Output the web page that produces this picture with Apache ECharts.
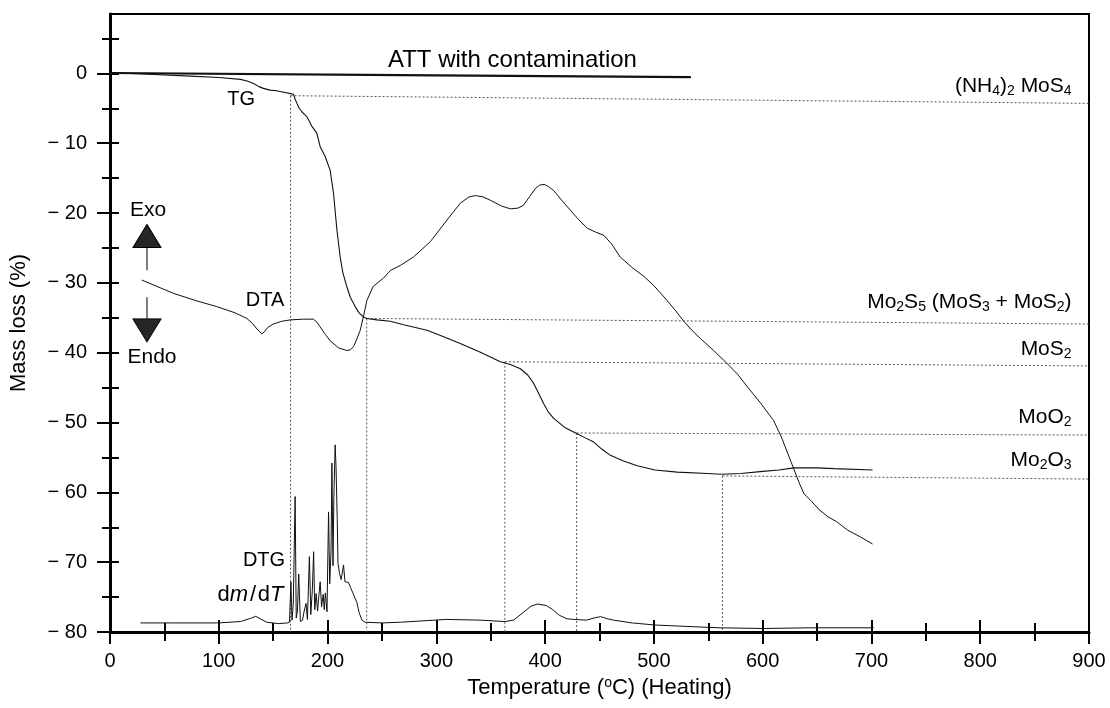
<!DOCTYPE html>
<html>
<head>
<meta charset="utf-8">
<script src="https://cdn.jsdelivr.net/npm/echarts@6/dist/echarts.min.js"></script>
<style>
html,body{margin:0;padding:0;background:#fff;}
#chart{width:1110px;height:708px;}
</style>
</head>
<body>
<div id="chart"></div>
<script>
// ---------------- DATA ----------------
const yTickLabels = [-80,-70,-60,-50,-40,-30,-20,-10,0];
const yTicksAll = [-80,-75,-70,-65,-60,-55,-50,-45,-40,-35,-30,-25,-20,-15,-10,-5,0,5];
const yTicksMinor = [-75,-65,-55,-45,-35,-25,-15,-5,5];

// ATT with contamination (mass %, thick line)
const attCurve = [[0,0.05],[267,-0.24],[534,-0.55]];

// TG curve: [temperature °C, mass loss %]
const tgCurve = [[0,0.1],[30,-0.1],[74,-0.4],[100,-0.6],[120,-0.86],[126,-1.1],[132,-1.45],[137,-1.9],[141,-2.15],[147,-2.4],[153,-2.5],[160,-2.7],[166,-2.9],[168.7,-3.0],[170,-3.6],[171.8,-4.3],[174,-5.0],[176.4,-5.5],[179,-5.9],[181,-6.2],[183,-6.8],[185.6,-7.6],[188,-8.1],[190.2,-8.6],[193.2,-10.5],[197.8,-11.9],[202.4,-13.9],[205.5,-17.2],[208.6,-22.4],[211.6,-26.3],[214,-28.5],[217.8,-30.6],[221,-32.1],[225.4,-33.4],[229,-34.3],[233.1,-34.9],[236,-35.1],[245.4,-35.3],[257.7,-35.5],[270,-36.0],[291.4,-36.8],[305,-37.6],[322,-38.7],[340,-39.9],[358.9,-41.3],[368,-41.7],[377.3,-42.3],[384,-43.2],[389.5,-44.4],[394,-45.8],[398.7,-47.3],[403,-48.5],[407.9,-49.4],[418,-50.7],[429.4,-51.6],[437,-52.2],[444.7,-52.8],[452,-53.8],[460,-54.7],[472,-55.5],[484.7,-56.2],[501,-56.8],[521.5,-57.1],[549,-57.3],[562,-57.4],[580,-57.3],[600,-57.0],[615,-56.8],[628.8,-56.5],[650,-56.5],[665.6,-56.6],[701,-56.8]];

// DTA curve
const dtaCurve = [[29.2,-29.6],[40,-30.3],[58.3,-31.5],[80,-32.6],[98.2,-33.4],[115,-34.3],[125.8,-35.1],[131,-35.8],[135,-36.6],[139.6,-37.3],[142,-37.0],[145,-36.4],[150,-35.9],[158,-35.5],[166,-35.3],[178,-35.2],[187,-35.2],[190,-35.6],[193.2,-36.3],[198,-37.4],[202.4,-38.3],[210,-39.3],[217.8,-39.7],[221,-39.6],[224,-39.1],[227,-38.0],[230,-36.8],[233,-34.8],[236.2,-32.5],[242,-30.5],[251.5,-29.3],[258,-28.2],[267,-27.5],[279,-26.3],[294.5,-24.1],[309.8,-21.0],[322,-18.6],[330,-17.7],[336,-17.5],[343,-17.7],[350,-18.2],[360,-19.0],[368,-19.4],[375,-19.3],[380,-18.9],[386,-17.6],[391,-16.5],[395,-16.0],[399,-15.9],[403,-16.2],[408,-16.8],[416,-18.3],[426,-20.1],[433,-21.3],[439,-22.2],[446,-22.7],[454,-23.2],[461,-24.4],[469,-26.3],[480,-27.8],[491,-29.1],[500,-30.4],[512,-32.5],[520,-34.0],[527.5,-35.5],[535,-36.8],[543,-38.0],[555,-39.7],[567,-41.5],[577,-43.1],[586,-44.9],[598,-47.2],[610,-49.7],[617,-52.0],[623,-54.4],[629,-56.8],[634,-58.8],[638,-60.2],[645,-61.3],[652,-62.5],[660,-63.5],[668,-64.2],[678,-65.4],[690,-66.4],[701,-67.4]];

// DTG (dm/dT) curve
const dtgCurve = [[28,-78.7],[60,-78.7],[100,-78.7],[120,-78.5],[130,-78.0],[134,-77.75],[138,-78.1],[144,-78.6],[155,-78.8],[163,-78.7],[165,-78.6],[166.3,-72.8],[167.3,-78.3],[168.5,-76],[170.2,-60.6],[171.2,-78],[172.3,-77],[173.5,-71.7],[175,-78.5],[177,-78.3],[178.5,-77],[180.2,-75.9],[181.5,-78.2],[183.3,-69.2],[184.6,-77.5],[186,-74],[187.2,-68.5],[188.2,-76.8],[189.5,-74.5],[190.8,-77],[192,-74.8],[193.2,-72.8],[194.5,-76.4],[196,-74.6],[197,-76.8],[198,-74.4],[199.5,-77.1],[200.9,-62.8],[202,-73.1],[203.2,-68.3],[204,-55.8],[205,-70.5],[205.8,-60.7],[207,-53.2],[207.8,-56.4],[208.9,-63.9],[209.6,-70.2],[211,-71.6],[212.5,-72.5],[214.7,-70.4],[216,-72.8],[219.3,-72.9],[221,-73.6],[223,-74.3],[225.4,-75.2],[227,-75.8],[229,-77.2],[231.6,-78.3],[234.6,-78.6],[250,-78.7],[267,-78.6],[309,-78.2],[340,-78.3],[363,-78.5],[371,-78.3],[380,-77.2],[387,-76.3],[393,-76.0],[401,-76.2],[407,-76.8],[413,-77.6],[420,-78.1],[426,-78.2],[438,-78.3],[445,-78.0],[451,-77.8],[457,-78.1],[463,-78.3],[480,-78.7],[501,-79.0],[560,-79.4],[601,-79.5],[643,-79.4],[702,-79.4]];

// decomposition stages
const stageT = [166, 236, 363, 429, 563];
const stageMass = [-3.2, -35.1, -41.3, -51.5, -57.65];
const stageMassAtEnd = [-4.3, -35.9, -41.9, -51.8, -58.1];
const stageNames = ['(NH{s|4}){s|2} MoS{s|4}', 'Mo{s|2}S{s|5} (MoS{s|3} + MoS{s|2})', 'MoS{s|2}', 'MoO{s|2}', 'Mo{s|2}O{s|3}'];

// ---------------- LAYOUT (positions of annotations, in data units) ----------------
const stageLabelX = 884;
const stageLabelY = [-1.8, -32.8, -39.5, -49.2, -55.4];
const arrowX = 34;

const FONT = "'Liberation Sans', Arial, Helvetica, sans-serif";

const chart = echarts.init(document.getElementById('chart'), null, {renderer: 'canvas'});

function xAx(interval, inside, len, labels) {
  return {
    type: 'value', min: 0, max: 900, interval: interval, position: 'bottom',
    axisLine: {show: labels, onZero: false, lineStyle: {color: '#000', width: 3}},
    axisTick: {show: true, inside: inside, length: len, lineStyle: {color: '#000', width: 2}},
    axisLabel: {show: labels, color: '#000', fontSize: 20, fontFamily: FONT, margin: 19},
    splitLine: {show: false},
    name: labels ? 'Temperature ({sup|o}C) (Heating)' : '',
    nameLocation: 'middle', nameGap: 44, nameMoveOverlap: false,
    nameTextStyle: {color: '#000', fontSize: 22, fontFamily: FONT,
      rich: {sup: {fontSize: 14, fontFamily: FONT, color: '#000', padding: [0,0,10,0]}}}
  };
}
function yAx(vals, inside, len, labels) {
  return {
    type: 'value', min: -80, max: 8.5, position: 'left',
    axisLine: {show: labels, onZero: false, lineStyle: {color: '#000', width: 3}},
    axisTick: {show: true, inside: inside, length: len, customValues: vals, lineStyle: {color: '#000', width: 2}},
    axisLabel: {show: labels, customValues: yTickLabels, color: '#000', fontSize: 20, fontFamily: FONT, margin: 23,
      formatter: v => v === 0 ? '0' : '\u2212 ' + Math.abs(v)},
    splitLine: {show: false},
    name: labels ? 'Mass loss (%)' : '',
    nameLocation: 'middle', nameGap: 80, nameMoveOverlap: false,
    nameTextStyle: {color: '#000', fontSize: 22, fontFamily: FONT}
  };
}

const series = [];
function curve(data, width) {
  series.push({type: 'line', data: data, showSymbol: false, symbol: 'none', silent: true,
    lineStyle: {color: '#111', width: width}, z: 3});
}
curve(attCurve, 2.2);
curve(tgCurve, 1.1);
curve(dtaCurve, 1);
curve(dtgCurve, 1);

// dotted guides
stageT.forEach((t, i) => {
  series.push({type: 'line', data: [[t, stageMass[i]], [900, stageMassAtEnd[i]]], symbol: 'none', silent: true,
    lineStyle: {color: '#555', width: 1, type: [2, 2]}, z: 2});
  series.push({type: 'line', data: [[t, stageMass[i]], [t, -80]], symbol: 'none', silent: true,
    lineStyle: {color: '#555', width: 1, type: [2, 2]}, z: 2});
});

const baseLabel = {show: true, position: 'inside', verticalAlign: 'middle', formatter: p => p.name,
  color: '#000', fontFamily: FONT, textBorderWidth: 0, textBorderColor: 'transparent', textShadowBlur: 0};

// stage labels
series.push({
  type: 'scatter', symbolSize: 0, silent: true, z: 5,
  itemStyle: {color: '#000', opacity: 1},
  data: stageNames.map((n, i) => ({value: [stageLabelX, stageLabelY[i]], name: n})),
  label: Object.assign({}, baseLabel, {align: 'right', fontSize: 21,
    rich: {s: {fontSize: 14, fontFamily: FONT, color: '#000', padding: [10,0,0,0]}}})
});

// curve labels
const textNotes = [
  {t: 'ATT with contamination', x: 370, y: 1.9, align: 'center', size: 24},
  {t: 'TG', x: 120.5, y: -3.7, align: 'center', size: 20},
  {t: 'DTA', x: 142.6, y: -32.5, align: 'center', size: 20},
  {t: 'DTG', x: 161, y: -69.7, align: 'right', size: 20},
  {t: 'd{i|m}\u200a/\u200ad{i|T}', x: 159.5, y: -74.7, align: 'right', size: 22},
  {t: 'Exo', x: 35, y: -19.6, align: 'center', size: 21},
  {t: 'Endo', x: 38.6, y: -40.7, align: 'center', size: 21}
];
series.push({
  type: 'scatter', symbolSize: 0, silent: true, z: 5,
  itemStyle: {color: '#000', opacity: 1},
  data: textNotes.map(n => ({value: [n.x, n.y], name: n.t,
    label: {align: n.align, fontSize: n.size}})),
  label: Object.assign({}, baseLabel, {
    rich: {i: {fontStyle: 'italic', fontSize: 22, fontFamily: FONT, color: '#000'}}})
});

// Exo / Endo arrows
series.push({type: 'line', data: [[arrowX, -24.9], [arrowX, -28.2]], symbol: 'none', silent: true,
  lineStyle: {color: '#000', width: 1}});
series.push({type: 'line', data: [[arrowX, -32.05], [arrowX, -35.3]], symbol: 'none', silent: true,
  lineStyle: {color: '#000', width: 1}});
series.push({type: 'scatter', silent: true, z: 6,
  data: [{value: [arrowX, -23.3], symbolRotate: 0}, {value: [arrowX, -36.8], symbolRotate: 180}],
  symbol: 'triangle', symbolSize: [28, 23],
  itemStyle: {color: '#262626', borderColor: '#000', borderWidth: 1, opacity: 1}});

chart.setOption({
  animation: false,
  backgroundColor: '#fff',
  textStyle: {fontFamily: FONT},
  grid: {left: 110, right: 21, top: 14, bottom: 76, show: true, borderColor: '#000', borderWidth: 2,
    backgroundColor: 'transparent', containLabel: false, outerBoundsMode: 'none'},
  xAxis: [xAx(100, false, 12, true), xAx(100, true, 12, false), xAx(50, false, 9, false), xAx(50, true, 9, false)],
  yAxis: [yAx(yTickLabels, false, 13, true), yAx(yTicksMinor, false, 8, false), yAx(yTicksAll, true, 9, false)],
  series: series
});
</script>
</body>
</html>
